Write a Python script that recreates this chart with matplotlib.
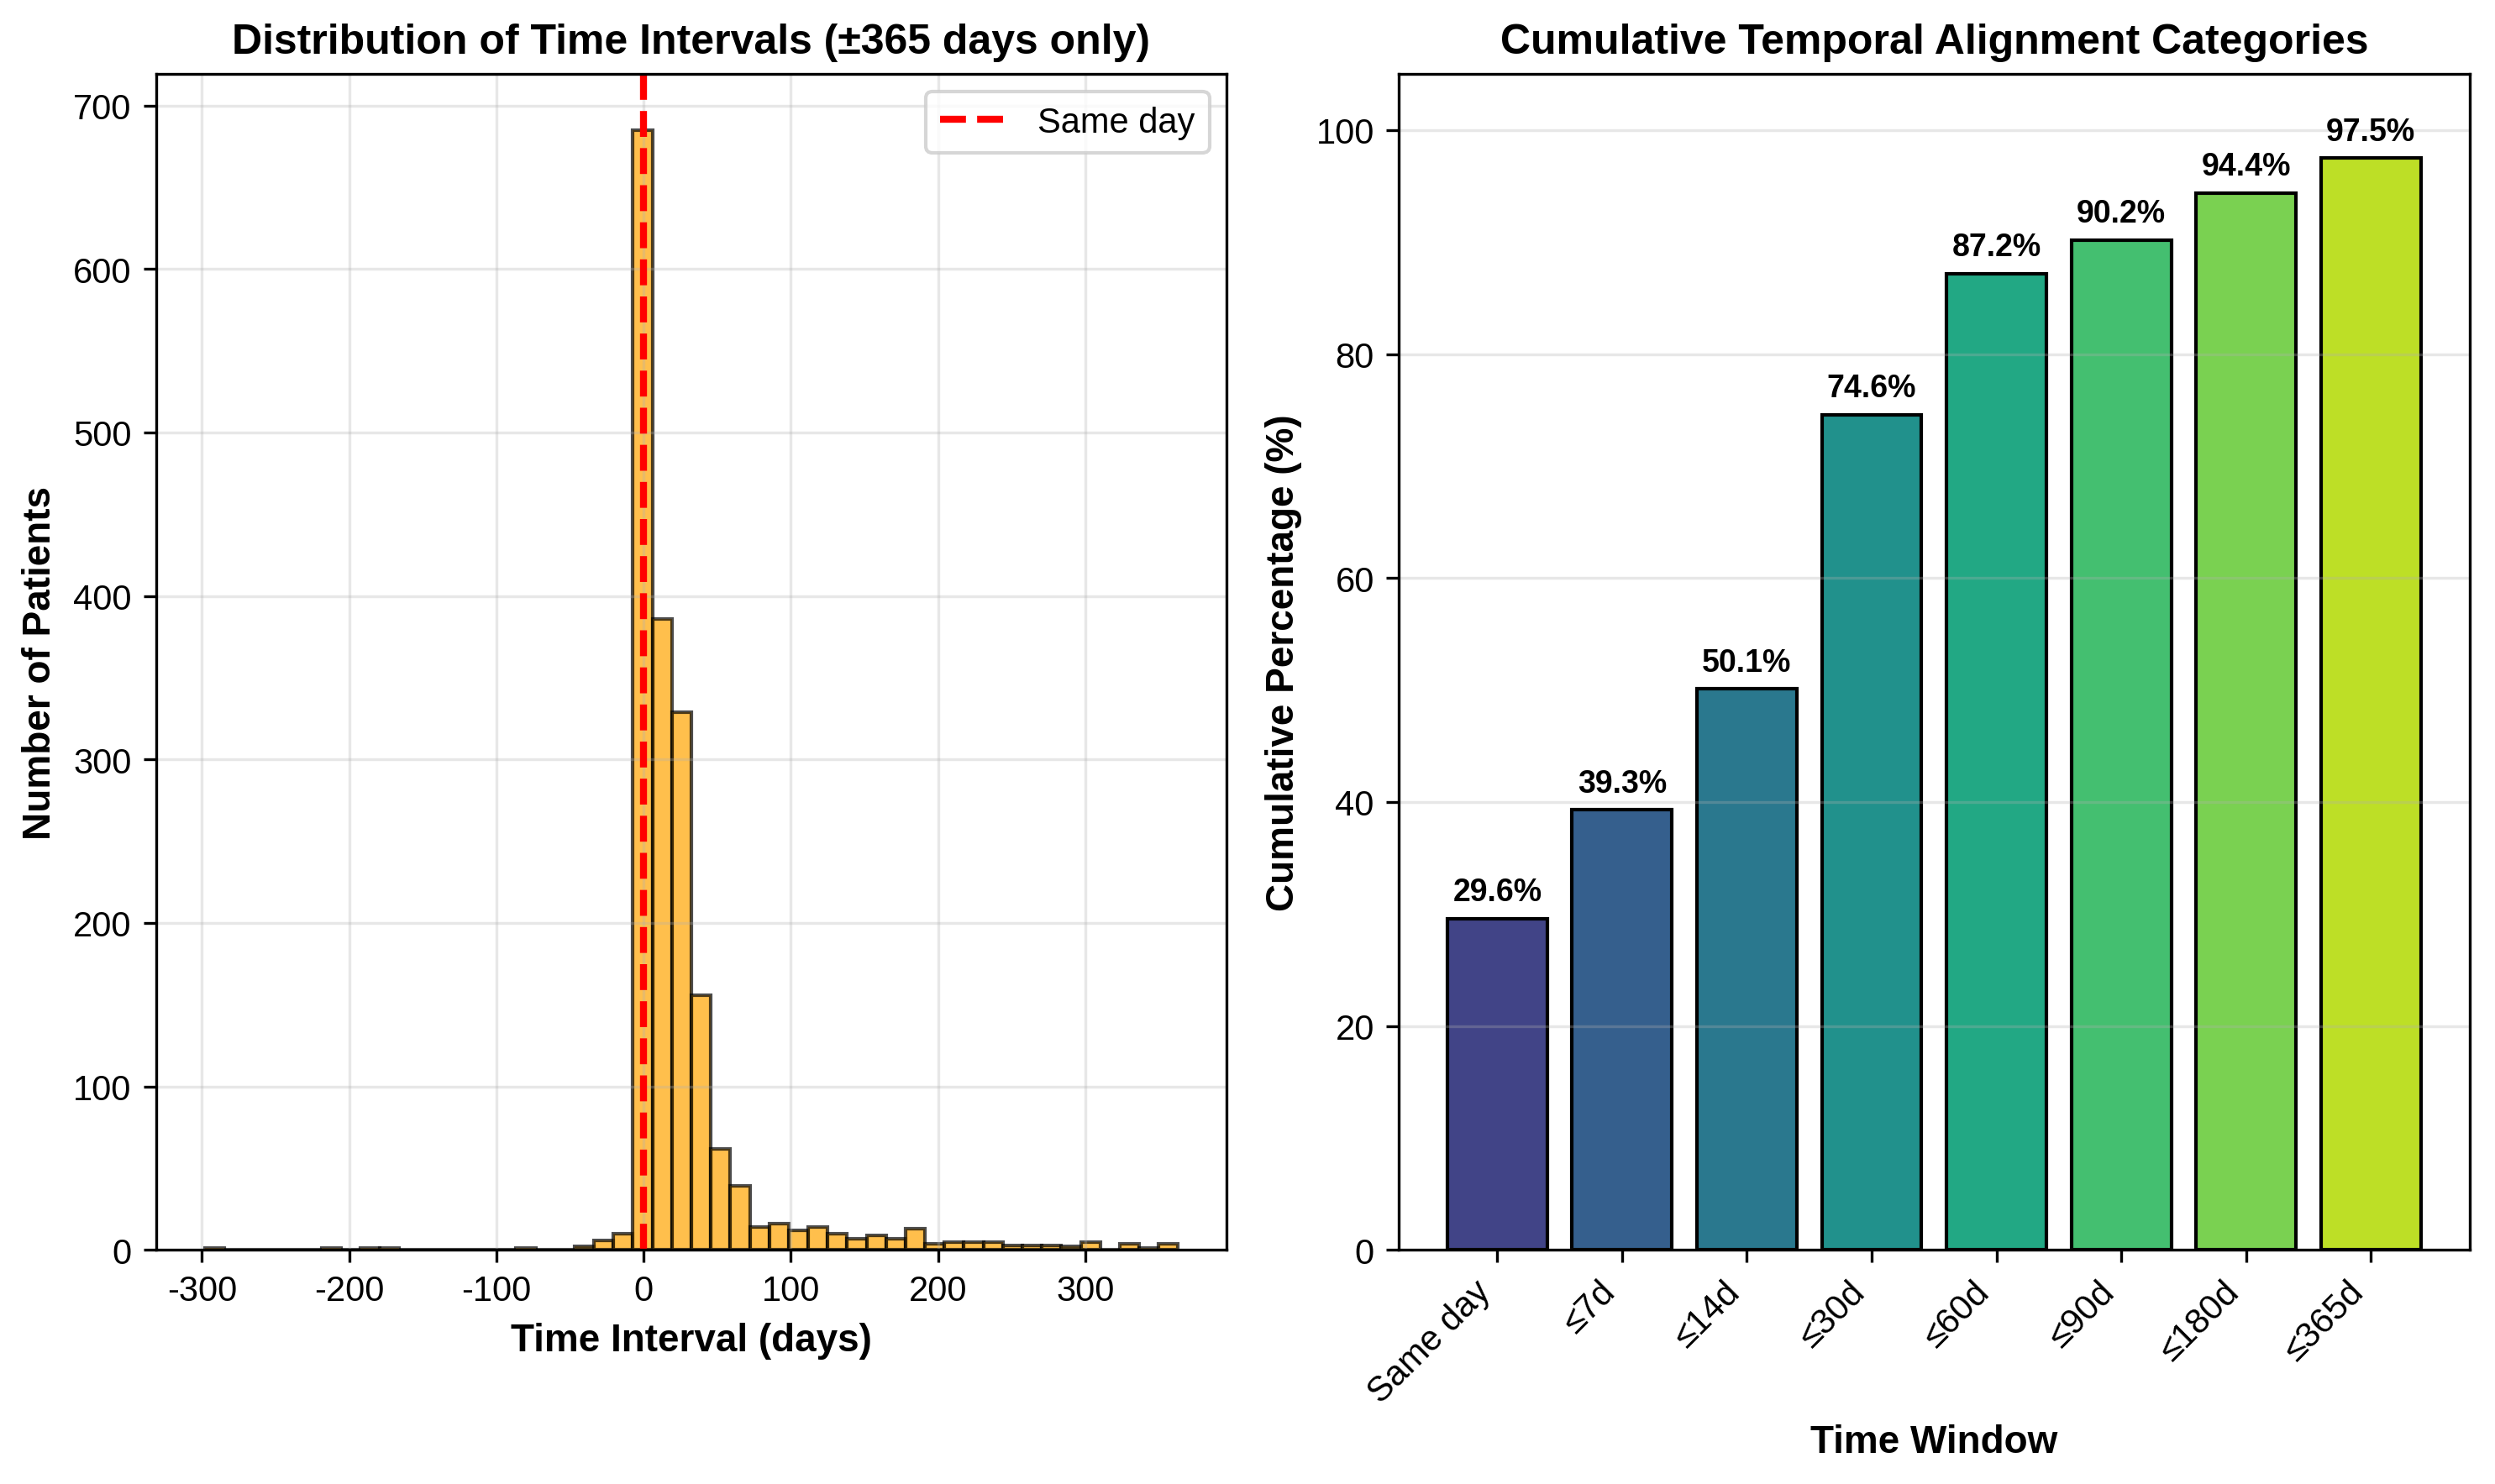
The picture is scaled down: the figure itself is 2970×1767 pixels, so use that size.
import numpy as np
import matplotlib
matplotlib.use("Agg")
import matplotlib.pyplot as plt

plt.rcParams['font.family'] = ['Liberation Sans', 'DejaVu Sans']
plt.rcParams['axes.unicode_minus'] = False

# ---- Data: histogram of time intervals ----
hist_range = [-298.2, 363.0]
hist_counts = [1, 0, 0, 0, 0, 0, 1, 0, 1, 1,
               0, 0, 0, 0, 0, 0, 1, 0, 0, 2,
               6, 10, 685, 386, 329, 156, 62, 39, 14, 16,
               12, 14, 10, 7, 9, 7, 13, 4, 5, 5,
               5, 3, 3, 3, 2, 5, 0, 4, 1, 4]

# ---- Data: cumulative categories ----
categories = ['Same day', '≤7d', '≤14d', '≤30d', '≤60d', '≤90d', '≤180d', '≤365d']
cum_pct = [29.6, 39.3, 50.1, 74.6, 87.2, 90.2, 94.4, 97.5]

fig = plt.figure(figsize=(9.9, 5.893), dpi=300)
ax1 = fig.add_axes([0.0625, 0.1576, 0.4292, 0.7920])
ax2 = fig.add_axes([0.5606, 0.1576, 0.4292, 0.7920])

edges = np.linspace(hist_range[0], hist_range[1], len(hist_counts) + 1)
centers = (edges[:-1] + edges[1:]) / 2
ax1.hist(centers, bins=edges, weights=hist_counts, color='orange', alpha=0.7,
         edgecolor='black')
ax1.axvline(0, color='red', linestyle='--', linewidth=2, label='Same day')
ax1.set_xlabel('Time Interval (days)', fontsize=11, fontweight='bold')
ax1.set_ylabel('Number of Patients', fontsize=11, fontweight='bold')
ax1.set_title('Distribution of Time Intervals (±365 days only)', fontsize=12,
              fontweight='bold')
ax1.legend(loc='upper right')
ax1.grid(True, alpha=0.3)

x = np.arange(len(categories))
colors = plt.cm.viridis(np.linspace(0.2, 0.9, len(categories)))
bars = ax2.bar(x, cum_pct, color=colors, edgecolor='black', linewidth=1)
for xi, v in zip(x, cum_pct):
    ax2.text(xi, v + 1, f'{v:.1f}%', ha='center', va='bottom', fontsize=9,
             fontweight='bold')
ax2.set_xticks(x)
ax2.set_xticklabels(categories, rotation=45, ha='right')
ax2.set_ylim(0, 105)
ax2.set_xlabel('Time Window', fontsize=11, fontweight='bold')
ax2.set_ylabel('Cumulative Percentage (%)', fontsize=11, fontweight='bold')
ax2.set_title('Cumulative Temporal Alignment Categories', fontsize=12,
              fontweight='bold')
ax2.grid(True, alpha=0.3, axis='y')

fig.savefig('out.png', dpi=300)
